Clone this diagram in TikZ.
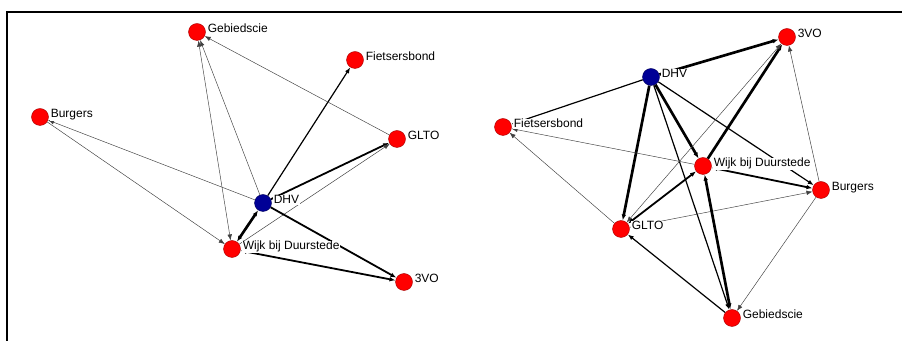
\documentclass[tikz,border=0pt]{standalone}
\usepackage{fontspec}
\setmainfont{Liberation Sans}
\usetikzlibrary{arrows.meta,backgrounds}
\definecolor{nodered}{RGB}{255,0,0}
\definecolor{nodeblue}{RGB}{0,0,150}
\tikzset{
  vtx/.style={circle, minimum size=12.75pt, inner sep=0pt, fill=nodered, draw=nodered!65!black, line width=0.3pt},
  hub/.style={vtx, fill=nodeblue, draw=nodeblue!60!black},
  lab/.style={fill=white, inner sep=0.4pt, font=\fontsize{9}{10}\selectfont, anchor=base west},
  tie/.style={draw=black, -{Latex[length=4.5pt,width=3.4pt]}},
  bi/.style={draw=black, {Latex[length=4.5pt,width=3.4pt]}-{Latex[length=4.5pt,width=3.4pt]}},
  w1/.style={line width=0.35pt, draw=black!75},
  w2/.style={line width=0.9pt},
  w3/.style={line width=1.35pt},
  w4/.style={line width=2pt},
  frame/.style={line width=1.5pt, draw=black},
}
\begin{document}
\begin{tikzpicture}[x=0.75pt, y=-0.75pt]
\useasboundingbox (0,0) rectangle (902,341);
% frame
\coordinate (fa) at (902,12);
\coordinate (fb) at (7,12);
\coordinate (fc) at (7,341);
\draw[frame] (fa) -- (fb) -- (fc);

% ---------- left network ----------
\node[vtx] (Lgeb)  at (197,32)  {};
\node[vtx] (Lfiet) at (355,60)  {};
\node[vtx] (Lburg) at (40,117)  {};
\node[vtx] (Lglto) at (397,139) {};
\node[hub] (Ldhv)  at (263,203) {};
\node[vtx] (Lwijk) at (232,249) {};
\node[vtx] (Lvo)   at (404,282) {};

% ---------- right network ----------
\node[vtx] (Rvo)   at (787,37)  {};
\node[hub] (Rdhv)  at (651,77)  {};
\node[vtx] (Rfiet) at (503,127) {};
\node[vtx] (Rwijk) at (703,166) {};
\node[vtx] (Rburg) at (821,190) {};
\node[vtx] (Rglto) at (621,229) {};
\node[vtx] (Rgeb)  at (732,318) {};

\begin{pgfonlayer}{background}
% left ties
\draw[tie,w2] (Ldhv) -- (Lfiet);
\draw[tie,w3] (Ldhv) -- (Lglto);
\draw[tie,w1] (Lwijk) -- (Lglto);
\draw[tie,w1] (Lglto) -- (Lgeb);
\draw[tie,w1] (Ldhv) -- (Lburg);
\draw[tie,w1] (Lburg) -- (Lwijk);
\draw[bi,w1] (Lgeb) -- (Lwijk);
\draw[tie,w1] (Ldhv) -- (Lgeb);
\draw[bi,w4] (Ldhv) -- (Lwijk);
\draw[tie,w3] (Ldhv) -- (Lvo);
\draw[bi,w3] (Lwijk) -- (Lvo);
% right ties
\draw[tie,w4] (Rdhv) -- (Rvo);
\draw[tie,w2] (Rdhv) -- (Rfiet);
\draw[tie,w4] (Rdhv) -- (Rglto);
\draw[tie,w4] (Rdhv) -- (Rwijk);
\draw[tie,w2] (Rdhv) -- (Rgeb);
\draw[tie,w2] (Rdhv) -- (Rburg);
\draw[bi,w3] (Rwijk) -- (Rburg);
\draw[tie,w4] (Rwijk) -- (Rvo);
\draw[bi,w1] (Rglto) -- (Rvo);
\draw[tie,w1] (Rburg) -- (Rvo);
\draw[tie,w1] (Rwijk) -- (Rfiet);
\draw[tie,w1] (Rglto) -- (Rfiet);
\draw[bi,w3] (Rglto) -- (Rwijk);
\draw[tie,w1] (Rglto) -- (Rburg);
\draw[tie,w2] (Rgeb) -- (Rglto);
\draw[tie,w1] (Rburg) -- (Rgeb);
\draw[bi,w4] (Rwijk) -- (Rgeb);
\end{pgfonlayer}

% labels
\node[lab] (LgebT)  at ([xshift=7.5pt,yshift=-0.75pt]Lgeb.center)  {Gebiedscie};
\node[lab] (LfietT) at ([xshift=7.5pt,yshift=-0.75pt]Lfiet.center) {Fietsersbond};
\node[lab] (LburgT) at ([xshift=7.5pt,yshift=-0.75pt]Lburg.center) {Burgers};
\node[lab] (LgltoT) at ([xshift=7.5pt,yshift=-0.75pt]Lglto.center) {GLTO};
\node[lab] (LdhvT)  at ([xshift=7.5pt,yshift=-0.75pt]Ldhv.center)  {DHV};
\node[lab] (LwijkT) at ([xshift=7.5pt,yshift=-0.75pt]Lwijk.center) {Wijk bij Duurstede};
\node[lab] (LvoT)   at ([xshift=7.5pt,yshift=-0.75pt]Lvo.center)   {3VO};

\node[lab] (RvoT)   at ([xshift=7.5pt,yshift=-0.75pt]Rvo.center)   {3VO};
\node[lab] (RdhvT)  at ([xshift=7.5pt,yshift=-0.75pt]Rdhv.center)  {DHV};
\node[lab] (RfietT) at ([xshift=7.5pt,yshift=-0.75pt]Rfiet.center) {Fietsersbond};
\node[lab] (RwijkT) at ([xshift=7.5pt,yshift=-0.75pt]Rwijk.center) {Wijk bij Duurstede};
\node[lab] (RburgT) at ([xshift=7.5pt,yshift=-0.75pt]Rburg.center) {Burgers};
\node[lab] (RgltoT) at ([xshift=7.5pt,yshift=-0.75pt]Rglto.center) {GLTO};
\node[lab] (RgebT)  at ([xshift=7.5pt,yshift=-0.75pt]Rgeb.center)  {Gebiedscie};
\end{tikzpicture}
\end{document}
